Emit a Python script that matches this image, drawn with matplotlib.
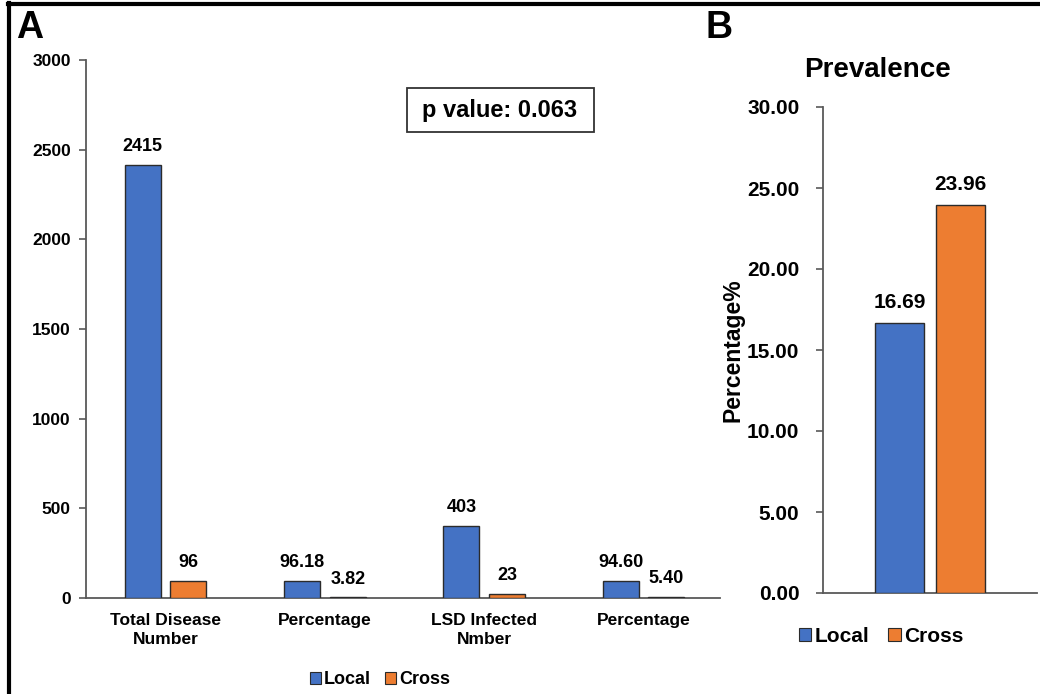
import matplotlib
matplotlib.use("Agg")
import matplotlib.pyplot as plt
from matplotlib.lines import Line2D
from matplotlib.patches import Patch, Rectangle
import numpy as np

plt.rcParams['font.family'] = ['Liberation Sans', 'DejaVu Sans']
plt.rcParams['font.weight'] = 'bold'

# ---- data ----
categories_a = ["Total Disease\nNumber", "Percentage", "LSD Infected\nNmber", "Percentage"]
local_a = [2415, 96.18, 403, 94.60]
cross_a = [96, 3.82, 23, 5.40]
local_a_labels = ["2415", "96.18", "403", "94.60"]
cross_a_labels = ["96", "3.82", "23", "5.40"]
yticks_a = [0, 500, 1000, 1500, 2000, 2500, 3000]

prev_local = [16.69]
prev_cross = [23.96]
yticks_b = [0, 5, 10, 15, 20, 25, 30]
series_names = ["Local", "Cross"]
p_value_text = "p value: 0.063"

BLUE = "#4472C4"
ORANGE = "#ED7D31"
EDGE = "#2b2b2b"
SPINE = "#595959"

W, H = 1040, 694
fig = plt.figure(figsize=(W / 100, H / 100), dpi=100)

def fx(px):
    return px / W

def fy(py):
    return 1 - py / H

# ---- Panel A ----
axA = fig.add_axes([fx(86), fy(598), fx(720) - fx(86), fy(60) - fy(598)])
x = np.arange(len(categories_a))
off, bw = 0.143, 0.226
axA.bar(x - off, local_a, bw, color=BLUE, edgecolor=EDGE, linewidth=1.0, zorder=3)
axA.bar(x + off, cross_a, bw, color=ORANGE, edgecolor=EDGE, linewidth=1.0, zorder=3)
for xi, v, s in zip(x, local_a, local_a_labels):
    axA.annotate(s, (xi - off, v), xytext=(0, 7), textcoords="offset points",
                 ha="center", va="bottom", fontsize=13, fontweight="bold")
for xi, v, s in zip(x, cross_a, cross_a_labels):
    axA.annotate(s, (xi + off, v), xytext=(0, 7), textcoords="offset points",
                 ha="center", va="bottom", fontsize=13, fontweight="bold")
axA.set_xlim(-0.5, 3.48)
axA.set_ylim(0, 3000)
axA.set_yticks(yticks_a)
axA.set_yticklabels([str(t) for t in yticks_a], fontsize=12.5, fontweight="bold")
axA.set_xticks(x)
axA.set_xticklabels(categories_a, fontsize=12.5, fontweight="bold", linespacing=1.3)
axA.tick_params(axis="x", length=0, pad=11)
axA.tick_params(axis="y", length=5, width=1.2, color=SPINE, pad=6, direction="out")
for s in ["top", "right"]:
    axA.spines[s].set_visible(False)
for s in ["left", "bottom"]:
    axA.spines[s].set_color(SPINE)
    axA.spines[s].set_linewidth(1.3)

fig.add_artist(Rectangle((fx(407), fy(132)), fx(594) - fx(407), fy(88) - fy(132),
                         transform=fig.transFigure, facecolor="white",
                         edgecolor="#333333", linewidth=1.3))
fig.text(fx(500), fy(110), p_value_text, ha="center", va="center",
         fontsize=17, fontweight="bold")

handles = [Patch(facecolor=BLUE, edgecolor=EDGE, linewidth=0.8),
           Patch(facecolor=ORANGE, edgecolor=EDGE, linewidth=0.8)]
fig.legend(handles, series_names, loc="center", bbox_to_anchor=(fx(380), fy(680)),
           ncol=2, frameon=False, handlelength=0.6, handleheight=0.6,
           handletextpad=0.15, columnspacing=0.8, prop={"weight": "bold", "size": 13})

# ---- Panel B ----
axB = fig.add_axes([fx(823), fy(593), fx(1037) - fx(823), fy(107) - fy(593)])
xb = np.arange(1)
axB.bar(xb - off, prev_local, bw, color=BLUE, edgecolor=EDGE, linewidth=1.0, zorder=3)
axB.bar(xb + off, prev_cross, bw, color=ORANGE, edgecolor=EDGE, linewidth=1.0, zorder=3)
axB.annotate(f"{prev_local[0]:.2f}", (xb[0] - off, prev_local[0]), xytext=(0, 8),
             textcoords="offset points", ha="center", va="bottom", fontsize=15, fontweight="bold")
axB.annotate(f"{prev_cross[0]:.2f}", (xb[0] + off, prev_cross[0]), xytext=(0, 8),
             textcoords="offset points", ha="center", va="bottom", fontsize=15, fontweight="bold")
axB.set_xlim(-0.5, 0.5)
axB.set_ylim(0, 30)
axB.set_yticks(yticks_b)
axB.set_yticklabels([f"{t:.2f}" for t in yticks_b], fontsize=15, fontweight="bold")
axB.set_xticks([])
axB.tick_params(axis="y", length=5, width=1.2, color=SPINE, pad=12, direction="out")
for s in ["top", "right"]:
    axB.spines[s].set_visible(False)
for s in ["left", "bottom"]:
    axB.spines[s].set_color(SPINE)
    axB.spines[s].set_linewidth(1.3)

fig.text(fx(733), fy(350), "Percentage%", ha="center", va="center", rotation=90,
         fontsize=16.5, fontweight="bold")
fig.text(fx(877), fy(70), "Prevalence", ha="center", va="center", fontsize=20, fontweight="bold")
fig.legend(handles, series_names, loc="center", bbox_to_anchor=(fx(881), fy(636)),
           ncol=2, frameon=False, handlelength=0.6, handleheight=0.6,
           handletextpad=0.15, columnspacing=0.9, prop={"weight": "bold", "size": 15})

# ---- Panel letters and border ----
fig.text(fx(16), fy(28), "A", ha="left", va="center", fontsize=27, fontweight="bold")
fig.text(fx(706), fy(28), "B", ha="left", va="center", fontsize=27, fontweight="bold")
fig.add_artist(Line2D([fx(8), 1.0], [fy(4), fy(4)], transform=fig.transFigure, color="black", linewidth=3))
fig.add_artist(Line2D([fx(9), fx(9)], [0.0, fy(3)], transform=fig.transFigure, color="black", linewidth=3))

fig.savefig("out.png", dpi=100, facecolor="white")
